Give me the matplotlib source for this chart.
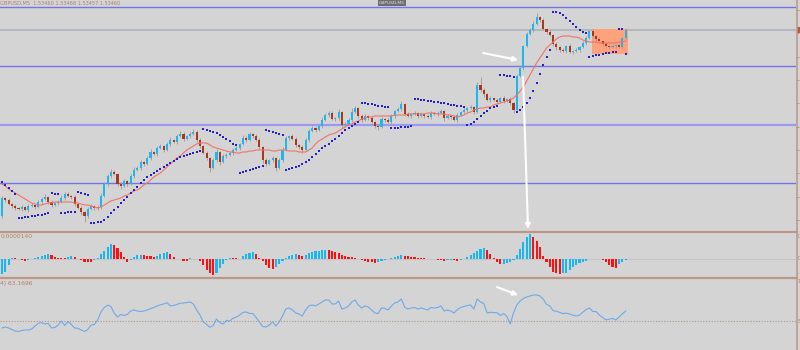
import matplotlib
matplotlib.use("Agg")
import matplotlib.pyplot as plt
import numpy as np
from matplotlib.lines import Line2D
from matplotlib.patches import Rectangle

# ---- price panel (values in points) -------------------------------------
OPEN_FIRST = 15
CLOSE = [
    33, 31, 27, 25, 23, 22, 24, 21, 25, 26,
    24, 29, 32, 34, 29, 26, 28, 29, 33, 37,
    35, 34, 27, 23, 19, 15, 22, 25, 23, 24,
    35, 47, 55, 59, 57, 47, 45, 50, 47, 55,
    61, 63, 69, 67, 73, 79, 77, 83, 85, 81,
    87, 91, 89, 95, 97, 92, 95, 97, 99, 91,
    85, 78, 73, 63, 71, 79, 69, 75, 76, 78,
    81, 83, 87, 93, 91, 97, 95, 91, 84, 71,
    67, 71, 73, 63, 71, 81, 93, 95, 92, 86,
    84, 81, 91, 100, 103, 101, 105, 111, 116, 118,
    112, 113, 119, 106, 107, 111, 119, 123, 115, 111,
    115, 113, 109, 105, 104, 112, 111, 109, 115, 120,
    122, 127, 117, 115, 117, 118, 115, 117, 115, 114,
    118, 117, 118, 120, 113, 115, 114, 111, 116, 119,
    121, 123, 124, 119, 146, 141, 137, 131, 133, 131,
    129, 133, 130, 132, 128, 121, 155, 163, 185, 197,
    201, 207, 214, 211, 202, 199, 196, 187, 184, 181,
    180, 185, 179, 180, 181, 184, 188, 193, 200, 195,
    192, 190, 187, 185, 184, 185, 186, 184, 193, 201,
]
WICK_UP = [
    2, 1, 2, 1, 2, 1, 2, 1, 2, 2,
    1, 2, 2, 3, 1, 2, 1, 2, 3, 2,
    2, 1, 2, 1, 2, 1, 2, 2, 1, 2,
    3, 2, 2, 3, 2, 1, 2, 2, 1, 2,
    3, 2, 2, 1, 2, 3, 1, 2, 2, 1,
    2, 3, 1, 2, 3, 2, 1, 2, 3, 2,
    2, 1, 2, 1, 2, 3, 1, 2, 2, 1,
    2, 2, 1, 3, 2, 2, 1, 2, 2, 1,
    2, 1, 2, 1, 2, 3, 2, 1, 2, 2,
    1, 2, 2, 2, 2, 1, 2, 3, 2, 2,
    2, 1, 3, 1, 2, 2, 4, 2, 1, 2,
    2, 1, 2, 1, 2, 2, 1, 2, 2, 1,
    2, 3, 1, 2, 1, 2, 1, 2, 1, 2,
    2, 1, 2, 2, 1, 2, 1, 2, 2, 1,
    2, 1, 2, 1, 3, 8, 2, 1, 2, 1,
    2, 1, 2, 1, 2, 1, 2, 2, 1, 2,
    2, 3, 4, 1, 2, 1, 2, 1, 2, 1,
    2, 1, 2, 1, 2, 1, 2, 2, 1, 2,
    1, 2, 1, 2, 1, 2, 1, 2, 1, 2,
]
WICK_DN = [
    2, 2, 1, 2, 2, 1, 2, 1, 2, 1,
    2, 1, 2, 1, 2, 2, 1, 2, 1, 2,
    1, 2, 2, 1, 3, 6, 2, 1, 2, 2,
    2, 1, 2, 2, 1, 2, 3, 1, 2, 1,
    2, 1, 2, 2, 1, 2, 1, 2, 1, 2,
    1, 2, 1, 2, 1, 2, 1, 2, 1, 2,
    2, 1, 2, 4, 1, 2, 3, 1, 2, 1,
    2, 1, 2, 1, 2, 1, 2, 1, 2, 3,
    2, 1, 2, 3, 1, 2, 1, 2, 1, 2,
    2, 3, 1, 2, 1, 2, 1, 2, 1, 2,
    1, 2, 2, 3, 2, 1, 2, 1, 2, 2,
    1, 2, 1, 2, 3, 1, 2, 1, 2, 2,
    1, 2, 2, 1, 2, 1, 2, 1, 2, 1,
    2, 1, 2, 1, 3, 1, 2, 1, 2, 1,
    1, 2, 1, 2, 1, 2, 3, 1, 2, 1,
    2, 1, 2, 1, 2, 3, 2, 1, 2, 1,
    1, 2, 1, 2, 1, 2, 1, 2, 3, 2,
    1, 2, 1, 2, 1, 2, 1, 2, 1, 2,
    2, 1, 2, 1, 2, 1, 2, 1, 2, 2,
]
MA = [
    47, 45, 42, 40, 38, 36, 34, 32, 30, 28,
    27, 26, 26, 27, 28, 28, 29, 29, 29, 29,
    29, 29, 28, 28, 27, 26, 26, 25, 24, 23,
    24, 26, 28, 30, 31, 32, 33, 35, 36, 38,
    40, 41, 43, 46, 48, 51, 54, 56, 58, 61,
    64, 67, 70, 73, 75, 78, 81, 83, 85, 87,
    88, 88, 88, 86, 84, 83, 82, 81, 80, 79,
    79, 78, 78, 79, 79, 80, 80, 81, 81, 81,
    81, 81, 80, 80, 81, 81, 81, 80, 80, 80,
    79, 79, 79, 81, 83, 87, 90, 92, 94, 96,
    97, 98, 100, 102, 104, 106, 107, 109, 110, 112,
    113, 114, 114, 115, 115, 115, 115, 115, 115, 116,
    116, 116, 116, 117, 117, 117, 117, 117, 117, 118,
    118, 118, 117, 117, 117, 116, 116, 115, 114, 115,
    116, 118, 119, 121, 122, 123, 123, 124, 124, 126,
    127, 128, 129, 130, 131, 133, 136, 140, 144, 150,
    156, 162, 168, 173, 178, 183, 186, 189, 192, 194,
    195, 195, 195, 194, 194, 193, 191, 190, 189, 189,
    189, 188, 188, 188, 188, 188, 188, 189, 189, 190,
]
SAR = [
    49, 46, 43, 40, 37,
    13, 13, 14, 14, 15, 15, 16, 16, 17, 18,
    38, 37, 37,
    18, 18, 19, 19, 19,
    39, 38, 37, 36,
    8, 8, 9, 9, 11, 14, 18, 21, 24, 28, 31, 34, 38, 41, 44, 48, 51, 54, 56, 58, 60,
    62, 64, 66, 68, 70, 72, 74, 75, 76, 77, 78, 79, 80,
    102, 101, 100, 99, 98, 96, 94, 92, 90, 87, 86,
    58, 59, 60, 61, 62, 63, 64, 65,
    101, 100, 99, 98, 97, 96,
    61, 62, 63, 64, 65, 67, 69, 71, 74, 77, 80, 83, 85, 87, 90, 92, 95, 98, 101, 103,
    105, 107, 109,
    128, 128, 127, 127, 126, 125, 125, 124, 124,
    103, 103, 103, 104, 104, 104, 105,
    132, 132, 131, 131, 130, 130, 129, 129, 128, 128, 127, 126, 126, 125, 125, 124,
    106, 107, 109, 112, 115, 118, 120, 123, 124, 125,
    156, 156, 155, 155, 154,
    119, 121, 124, 128, 133, 140, 148, 157, 166, 174, 181,
    219, 219, 218, 216, 213, 210, 207, 204, 201, 199, 198,
    174, 175, 176, 176, 177, 178, 178, 179, 179,
    202, 202,
    177,
]
LEVELS = [224, 165, 106, 48]
BID = 201
BOX = (178.8, 189.7, 177, 202)          # bar from, bar to, low, high

# ---- oscillator panel ------------------------------------------------------
OSMA = [
    -15, -13, -6, 1.5, 1, 0.5, -0.5, -1.5, -1, 0,
    1, 2, 3, 4, 5, 4.5, 2, 1, 0.8, 0.6,
    2, 3, 2, 0.5, -1, -2.5, -3, -3.2, -0.5, 1.5,
    5, 8, 12, 15, 14.5, 11, 7, 2, -3, -1,
    2, 4, 4.5, 4, 3.5, 3, 2.5, 3, 5, 6.5,
    7.5, 5, 2, 0, -0.3, -1.5, -2, 0.8, 0.3, 0,
    -2, -6, -11, -14, -16, -14, -9, -5, -1, 1,
    0.8, 0.6, 0.5, 3, 5, 6, 7, 5, 1, -2,
    -6, -9, -10, -8, -5, -2, 1, 3, 4, 5,
    4, 3, 4, 6, 7, 8, 8.5, 9, 9.5, 9,
    8, 7, 6, 4, 3, 2.5, 2, 1.5, 0.5, -1,
    -2, -2.5, -3, -3.5, -3, -2, -1, 0, 1, 2,
    3, 4, 3.5, 3, 2.5, 2, 1.5, 1.2, 1, 0.5,
    0.2, 0, -0.5, -1, -1.5, -1, -0.5, -1, -1.5, -0.5,
    0.5, 2, 4, 6, 8, 10, 11, 9, 5, 1,
    -3, -5, -4.8, -4, -3, -1, 4, 10, 17, 22,
    25, 22, 18, 12, 3, -3, -8, -13, -14, -14.5,
    -14, -13.5, -11, -8, -6, -4, -3, -2, 0.4, 0.3,
    0.2, 0.1, -1, -3, -6, -8, -8.5, -5, -3, -1,
]

# ---- RSI panel ---------------------------------------------------------------
RSI = [
    41.9, 43.1, 41.9, 40.0, 38.1, 37.5, 38.8, 39.4, 39.4, 40.6,
    44.4, 47.8, 48.5, 46.9, 47.5, 41.9, 42.5, 45.6, 50.6, 45.0,
    49.8, 46.3, 41.9, 41.5, 39.4, 37.5, 40.0, 45.6, 46.3, 51.9,
    61.9, 67.5, 70.4, 68.8, 60.6, 55.6, 58.8, 57.5, 58.8, 63.1,
    64.4, 63.1, 62.5, 63.1, 64.4, 65.9, 67.5, 69.4, 70.9, 71.9,
    73.5, 69.4, 70.0, 71.3, 72.8, 73.1, 73.8, 74.4, 71.9, 64.4,
    58.1, 49.4, 46.3, 42.8, 45.0, 53.1, 48.8, 46.9, 51.3, 50.6,
    54.0, 55.6, 57.9, 61.3, 61.9, 60.0, 60.0, 55.0, 49.4, 43.8,
    43.1, 45.6, 49.4, 44.4, 49.4, 56.9, 65.6, 66.9, 64.4, 60.6,
    59.4, 56.9, 64.4, 69.4, 70.6, 69.4, 71.9, 74.4, 76.9, 76.9,
    71.9, 71.9, 75.6, 65.6, 66.9, 69.4, 74.4, 76.9, 70.6, 66.9,
    69.4, 68.1, 64.4, 60.6, 60.0, 66.9, 66.3, 64.4, 69.4, 73.1,
    74.4, 78.1, 68.1, 65.6, 66.9, 67.5, 65.6, 66.9, 65.6, 64.4,
    67.5, 66.9, 67.5, 69.4, 63.1, 64.4, 63.1, 60.6, 65.0, 67.5,
    68.8, 70.0, 70.6, 65.6, 78.1, 74.4, 72.5, 60.6, 61.5, 61.1,
    61.0, 57.5, 60.0, 56.3, 46.9, 60.6, 70.6, 75.6, 78.8, 80.6,
    81.9, 83.1, 83.1, 81.9, 78.1, 71.3, 69.4, 63.5, 62.8, 61.3,
    60.0, 60.3, 59.4, 57.8, 56.9, 58.1, 61.5, 65.0, 66.9, 62.5,
    62.5, 58.1, 55.0, 52.1, 52.9, 53.9, 51.9, 55.6, 59.6, 63.2,
]
RSI_LEVEL = 50

# right-edge scale marks that show in the shot (only first character survives)
OSMA_MARKS = [(23, "0"), (0, "0"), (-15, "-")]
RSI_MARKS = [(100, "1"), (50, "5")]

# hand-drawn arrows: (bar, value) -> (bar, value)
ARROW_PRICE = ((145.8, 178), (156.4, 171))
ARROW_DOWN = ((157.9, 154), (159.4, 2))
ARROW_RSI = ((150.0, 93), (156.4, 83))

BG = "#D4D4D4"
BROWN = "#BF9585"
BULL, BEAR, WICK = "#1CB6F2", "#A7381F", "#B59C90"
SAR_C, MA_C = "#2323C4", "#F0746A"
LEVEL_C, BID_C = "#7474E6", "#B3B8BE"
H_UP, H_DN = "#1BB5F0", "#FF1010"
RSI_C, DOT_C = "#6EAAE8", "#A89888"
TXT_C = "#B0806A"

W, H = 800, 350
XLIM = (-0.606, 240.6)


def main():
    idx = np.arange(len(CLOSE))
    c = np.array(CLOSE, float)
    o = np.r_[OPEN_FIRST, c[:-1]]
    hi = np.maximum(o, c) + np.array(WICK_UP)
    lo = np.minimum(o, c) - np.array(WICK_DN)

    fig = plt.figure(figsize=(W / 100, H / 100), dpi=100, facecolor=BG)

    def panel(top, bottom):
        a = fig.add_axes([0, 1 - bottom / H, 796 / W, (bottom - top) / H])
        a.set_facecolor(BG)
        a.set_xlim(*XLIM)
        a.set_xticks([])
        for s in a.spines.values():
            s.set_visible(False)
        a.yaxis.tick_right()
        a.tick_params(axis="y", length=2.5, width=0.7, color=BROWN, labelright=False)
        return a

    ax = panel(0, 231)
    axh = panel(232, 277)
    axr = panel(279, 361.5)

    # price panel
    ax.set_ylim(0, 231)
    for lv in LEVELS:
        lw, col = (1.6, "#9A9AF0") if lv == 106 else (1.0, LEVEL_C)
        ax.axhline(lv, color=col, lw=lw, zorder=1)
    ax.axhline(BID, color=BID_C, lw=1.4, zorder=1)
    ax.add_patch(Rectangle((BOX[0], BOX[2]), BOX[1] - BOX[0], BOX[3] - BOX[2],
                           facecolor="#FFA27C", edgecolor="none", zorder=2))
    ax.vlines(idx, lo, hi, color=WICK, lw=0.7, zorder=3)
    ax.bar(idx, np.maximum(np.abs(c - o), 0.7), bottom=np.minimum(o, c), width=0.62,
           color=np.where(c >= o, BULL, BEAR), zorder=4)
    ax.plot(idx, MA, color=MA_C, lw=0.8, zorder=5)
    ax.plot(idx, SAR, "s", ms=1.5, mew=0, color=SAR_C, zorder=6)
    ax.set_yticks(np.arange(11, 231, 23.33))

    # oscillator panel
    h = np.array(OSMA, float)
    rising = np.r_[True, h[1:] > h[:-1]]
    axh.set_ylim(-18, 27)
    axh.axhline(0, color="#C6C6C6", lw=0.8, zorder=1)
    axh.bar(idx, h, width=0.62, color=np.where(rising, H_UP, H_DN), zorder=2)
    axh.set_yticks([])

    # RSI panel
    axr.set_ylim(0, 103.1)
    axr.axhline(RSI_LEVEL, color=DOT_C, lw=0.8, ls=(0, (1, 1.5)), zorder=1)
    axr.plot(idx, RSI, color=RSI_C, lw=0.8, zorder=2)
    axr.set_yticks([])

    # frame lines
    for yp in (231.5, 278):
        fig.add_artist(Line2D([0, 796.5 / W], [1 - yp / H] * 2, color=BROWN, lw=1.6))
    fig.add_artist(Line2D([796.5 / W] * 2, [0, 1], color=BROWN, lw=1.1))
    fig.add_artist(Rectangle((797 / W, 1 - 33 / H), 3 / W, 6 / H, transform=fig.transFigure,
                             facecolor="#B0603A", edgecolor="none"))

    # scale marks squeezed into the strip right of the frame
    for a, marks in ((axh, OSMA_MARKS), (axr, RSI_MARKS)):
        for v, s in marks:
            ypix = a.transData.transform((0, v))[1]
            fig.text(797.3 / W, ypix / H, s, fontsize=3.3, color=TXT_C,
                     va="center", ha="left", zorder=12)

    # arrows
    for a, (p0, p1) in ((ax, ARROW_PRICE), (ax, ARROW_DOWN), (axr, ARROW_RSI)):
        a.annotate("", xy=p1, xytext=p0, annotation_clip=False, zorder=10,
                   arrowprops=dict(arrowstyle="-|>", color="white", lw=1.5,
                                   mutation_scale=7, shrinkA=0, shrinkB=0))

    # texts
    fig.text(0.5 / W, 1 - 0.3 / H, "GBPUSD,M5  1.53460 1.53468 1.53457 1.53460",
             fontsize=3.6, color=TXT_C, va="top", ha="left")
    fig.text(392 / W, 1 - 2.8 / H, "GBPUSD,M5", fontsize=3.2, color="#E0E0E0",
             va="center", ha="center",
             bbox=dict(facecolor="#6E6E6E", edgecolor="none", pad=0.6))
    fig.text(0.5 / W, 1 - 236 / H, "0.0000140", fontsize=4.3, color=TXT_C, va="center")
    fig.text(0.5 / W, 1 - 284 / H, "4) 63.1696", fontsize=4.3, color=TXT_C, va="center")

    fig.savefig("out.png", dpi=100, facecolor=BG)
    plt.close(fig)


if __name__ == "__main__":
    main()
